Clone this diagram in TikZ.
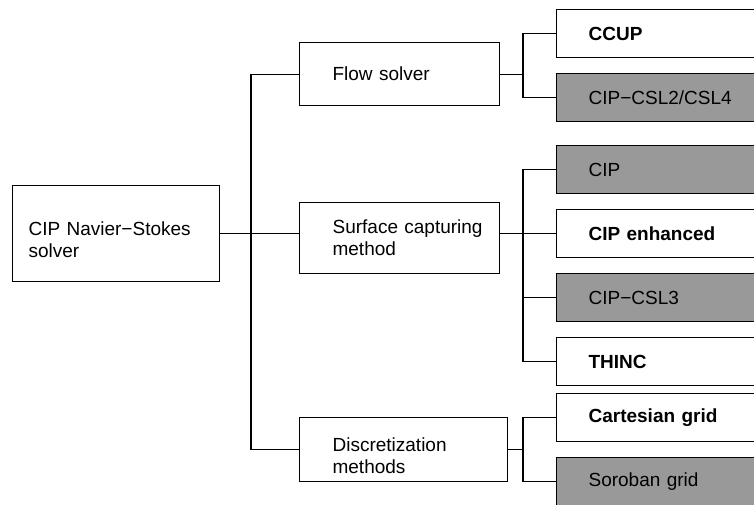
\documentclass[tikz,border=0pt]{standalone}
\usepackage{fontspec}
\setmainfont{Liberation Sans}
\usetikzlibrary{positioning}
\definecolor{boxgray}{RGB}{153,153,153}

\begin{document}
\begin{tikzpicture}[x=1pt, y=-1pt,
  box/.style={draw, line width=1.2pt, anchor=north west, align=left,
    font=\fontsize{19}{22}\selectfont, inner ysep=0pt},
  rootbox/.style={box, minimum width=207pt, minimum height=96pt,
    inner xsep=16pt, text width=175pt},
  midbox/.style={box, inner xsep=33pt, text width=134pt},
  leafbox/.style={box, minimum width=234pt, minimum height=48pt,
    inner xsep=32pt, text width=170pt},
  grey/.style={fill=boxgray},
  lowtext/.style={text height=26pt},
  link/.style={line width=1.2pt},
]
  \path[use as bounding box] (0,0) rectangle (754,504);
  \clip (0,0) rectangle (754,504);

  \node[rootbox, lowtext] (root) at (12,185) {CIP Navier−Stokes\\solver};

  \node[midbox, minimum height=63pt] (flow) at (299,42) {Flow solver};
  \node[midbox, minimum height=71pt] (surf) at (299,202)
    {\mbox{Surface capturing}\\method};
  \node[midbox, lowtext, text width=142pt, minimum height=64pt] (disc) at (299,417)
    {Discretization\\methods};

  \node[leafbox]       (ccup)  at (556,9)   {\textbf{CCUP}};
  \node[leafbox, grey] (csl24) at (556,73)  {CIP−CSL2/CSL4};
  \node[leafbox, grey] (cip)   at (556,145) {CIP};
  \node[leafbox]       (cipe)  at (556,209) {\textbf{CIP enhanced}};
  \node[leafbox, grey] (csl3)  at (556,273) {CIP−CSL3};
  \node[leafbox]       (thinc) at (556,337) {\textbf{THINC}};
  \node[leafbox]       (cart)  at (556,393) {\textbf{Cartesian grid}};
  \node[leafbox, grey] (soro)  at (556,457) {Soroban grid};

  \coordinate (trunk) at (251,0);
  \coordinate (split) at (523,0);

  \draw[link] (root.east) -- (surf.west |- root.east);
  \draw[link] (flow.west) -- (flow.west -| trunk) -- (disc.west -| trunk) -- (disc.west);

  \draw[link] (flow.east) -- (flow.east -| split);
  \draw[link] (ccup.west) -- (ccup.west -| split) -- (csl24.west -| split) -- (csl24.west);

  \draw[link] (surf.east |- root.east) -- (cipe.west);
  \draw[link] (cip.west) -- (cip.west -| split) -- (thinc.west -| split) -- (thinc.west);
  \draw[link] (csl3.west) -- (csl3.west -| split);

  \draw[link] (disc.east) -- (disc.east -| split);
  \draw[link] (cart.west) -- (cart.west -| split) -- (soro.west -| split) -- (soro.west);
\end{tikzpicture}
\end{document}
